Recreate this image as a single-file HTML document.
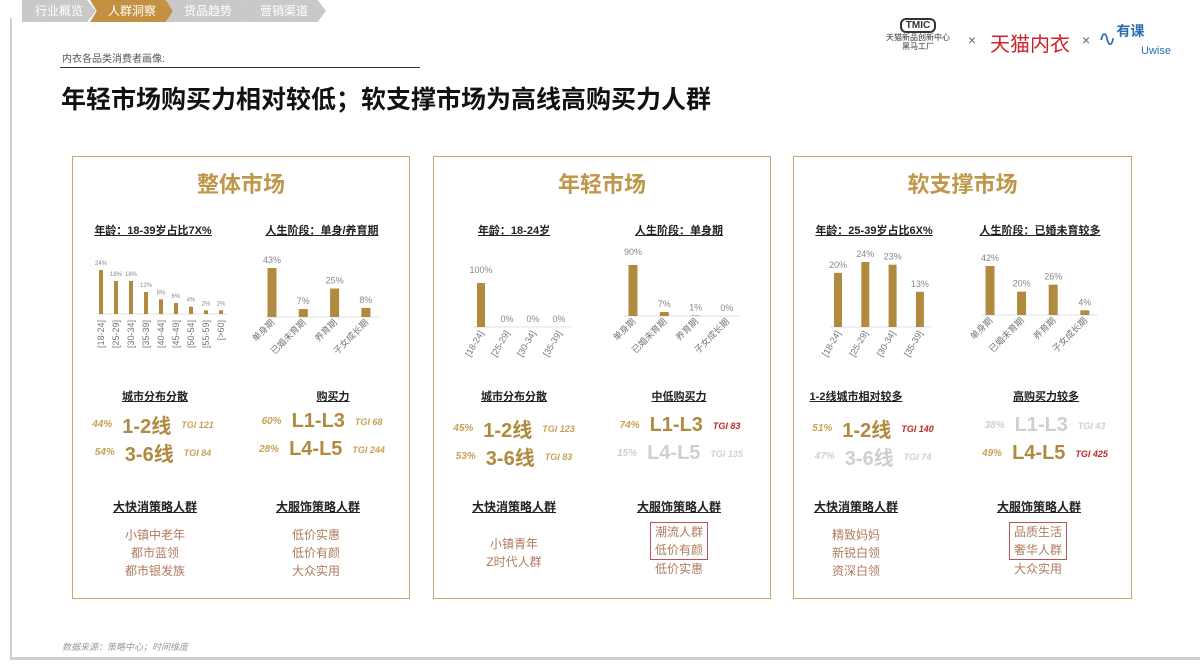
<!DOCTYPE html>
<html><head><meta charset="utf-8">
<style>
html,body{margin:0;padding:0;background:#fff;}
body{width:1200px;height:667px;position:relative;overflow:hidden;font-family:"Liberation Sans","Noto Sans CJK SC",sans-serif;}
.abs{position:absolute;}
.frame{left:10px;top:18px;width:1190px;height:642px;border-left:2px solid #cfcfcf;border-bottom:3px solid #cfcfcf;box-sizing:border-box;}
.tab{top:0;height:22px;line-height:22px;color:#fff;font-size:12px;text-align:center;background:#c9c9c9;clip-path:polygon(0 0,90% 0,100% 50%,90% 100%,0 100%,8% 50%);}
.panel{border:1.5px solid #c8a66c;background:#fff;}
.ptitle{font-size:22px;font-weight:bold;color:#c0974a;text-align:center;width:100%;top:10px;}
.sub{font-size:11px;font-weight:bold;color:#222;text-decoration:underline;white-space:nowrap;transform:translateX(-50%);}
.row{white-space:nowrap;transform:translateX(-50%);display:flex;align-items:center;gap:10px;}
.pct{font-size:10px;font-style:italic;font-weight:bold;color:#c9a255;}
.big{font-size:20px;color:#b08a3e;font-weight:bold;}
.tgi{font-size:9px;font-style:italic;font-weight:bold;color:#c9a255;}
.dim{color:#cfcfcf!important;}
.red{color:#c0262c!important;}
.items{transform:translateX(-50%);text-align:center;font-size:12px;line-height:18px;color:#b07a5e;white-space:nowrap;}
.box{border:1.5px solid #b8555a;padding:0 4px;}
</style></head><body>
<div class="abs frame"></div>
<div class="abs tab" style="left:22px;width:74px;clip-path:polygon(0 0,88% 0,100% 50%,88% 100%,0 100%)">行业概览</div>
<div class="abs tab" style="left:90px;width:84px;background:#c39140">人群洞察</div>
<div class="abs tab" style="left:166px;width:84px">货品趋势</div>
<div class="abs tab" style="left:242px;width:84px">营销渠道</div>

<div class="abs" style="left:62px;top:50px;font-size:10px;color:#555">内衣各品类消费者画像:</div>
<div class="abs" style="left:60px;top:67px;width:360px;border-top:1px solid #333"></div>
<div class="abs" style="left:61px;top:80px;font-size:25px;font-weight:bold;color:#111">年轻市场购买力相对较低；软支撑市场为高线高购买力人群</div>

<div class="abs" style="left:873px;top:18px;width:90px;text-align:center;font-size:8px;color:#333;line-height:9px"><div style="display:inline-block;border:2px solid #333;border-radius:6px;padding:1px 4px;font-size:10px;font-weight:bold">TMIC</div><br>天猫新品创新中心<br>黑马工厂</div>
<div class="abs" style="left:968px;top:32px;font-size:14px;color:#666">×</div>
<div class="abs" style="left:990px;top:28px;font-size:20px;color:#d0202a">天猫内衣</div>
<div class="abs" style="left:1082px;top:32px;font-size:14px;color:#666">×</div>
<div class="abs" style="left:1098px;top:26px;font-size:22px;color:#2a6fb0">∿<span style="font-size:14px;font-weight:bold;position:relative;top:-10px">有课</span></div>
<div class="abs" style="left:1141px;top:45px;font-size:11px;color:#2a6fb0">Uwise</div>

<div class="abs panel" style="left:72px;top:156px;width:336px;height:441px"><div class="abs ptitle">整体市场</div></div>
<div class="abs panel" style="left:433px;top:156px;width:336px;height:441px"><div class="abs ptitle">年轻市场</div></div>
<div class="abs panel" style="left:793px;top:156px;width:337px;height:441px"><div class="abs ptitle">软支撑市场</div></div>

<div class="abs sub" style="left:153px;top:222px">年龄：18-39岁占比7X%</div>
<div class="abs sub" style="left:322px;top:222px">人生阶段：单身/养育期</div>
<div class="abs sub" style="left:514px;top:222px">年龄：18-24岁</div>
<div class="abs sub" style="left:679px;top:222px">人生阶段：单身期</div>
<div class="abs sub" style="left:874px;top:222px">年龄：25-39岁占比6X%</div>
<div class="abs sub" style="left:1040px;top:222px">人生阶段：已婚未育较多</div>

<svg class="abs" id="charts" style="left:0;top:0" width="1200" height="667"></svg>

<div class="abs sub" style="left:155px;top:388px">城市分布分散</div>
<div class="abs sub" style="left:333px;top:388px">购买力</div>
<div class="abs row" style="left:153px;top:410px"><span class="pct">44%</span><span class="big">1-2线</span><span class="tgi">TGI 121</span></div>
<div class="abs row" style="left:153px;top:438px"><span class="pct">54%</span><span class="big">3-6线</span><span class="tgi">TGI 84</span></div>
<div class="abs row" style="left:322px;top:410px"><span class="pct">60%</span><span class="big">L1-L3</span><span class="tgi">TGI 68</span></div>
<div class="abs row" style="left:322px;top:438px"><span class="pct">28%</span><span class="big">L4-L5</span><span class="tgi">TGI 244</span></div>
<div class="abs sub" style="left:155px;top:498px;font-size:12px">大快消策略人群</div>
<div class="abs sub" style="left:318px;top:498px;font-size:12px">大服饰策略人群</div>
<div class="abs items" style="left:155px;top:526px">小镇中老年<br>都市蓝领<br>都市银发族</div>
<div class="abs items" style="left:316px;top:526px">低价实惠<br>低价有颜<br>大众实用</div>

<div class="abs sub" style="left:514px;top:388px">城市分布分散</div>
<div class="abs sub" style="left:679px;top:388px">中低购买力</div>
<div class="abs row" style="left:514px;top:414px"><span class="pct">45%</span><span class="big">1-2线</span><span class="tgi">TGI 123</span></div>
<div class="abs row" style="left:514px;top:442px"><span class="pct">53%</span><span class="big">3-6线</span><span class="tgi">TGI 83</span></div>
<div class="abs row" style="left:680px;top:414px"><span class="pct">74%</span><span class="big">L1-L3</span><span class="tgi red">TGI 83</span></div>
<div class="abs row" style="left:680px;top:442px"><span class="pct dim">15%</span><span class="big dim">L4-L5</span><span class="tgi dim">TGI 135</span></div>
<div class="abs sub" style="left:514px;top:498px;font-size:12px">大快消策略人群</div>
<div class="abs sub" style="left:679px;top:498px;font-size:12px">大服饰策略人群</div>
<div class="abs items" style="left:514px;top:535px">小镇青年<br>Z时代人群</div>
<div class="abs items" style="left:679px;top:522px"><div class="box">潮流人群<br>低价有颜</div>低价实惠</div>

<div class="abs sub" style="left:856px;top:388px">1-2线城市相对较多</div>
<div class="abs sub" style="left:1046px;top:388px">高购买力较多</div>
<div class="abs row" style="left:873px;top:414px"><span class="pct">51%</span><span class="big">1-2线</span><span class="tgi red">TGI 140</span></div>
<div class="abs row" style="left:873px;top:442px"><span class="pct dim">47%</span><span class="big dim">3-6线</span><span class="tgi dim">TGI 74</span></div>
<div class="abs row" style="left:1045px;top:414px"><span class="pct dim">38%</span><span class="big dim">L1-L3</span><span class="tgi dim">TGI 43</span></div>
<div class="abs row" style="left:1045px;top:442px"><span class="pct">49%</span><span class="big">L4-L5</span><span class="tgi red">TGI 425</span></div>
<div class="abs sub" style="left:856px;top:498px;font-size:12px">大快消策略人群</div>
<div class="abs sub" style="left:1039px;top:498px;font-size:12px">大服饰策略人群</div>
<div class="abs items" style="left:856px;top:526px">精致妈妈<br>新锐白领<br>资深白领</div>
<div class="abs items" style="left:1038px;top:522px"><div class="box">品质生活<br>奢华人群</div>大众实用</div>

<div class="abs" style="left:62px;top:640px;font-size:9px;font-style:italic;color:#999">数据来源：策略中心；时间维度</div>

<script>
const age1Cats=["[18-24]","[25-29]","[30-34]","[35-39]","[40-44]","[45-49]","[50-54]","[55-59]","[>60]"];
const age1Vals=[24,18,18,12,8,6,4,2,2];
const stageCats=["单身期","已婚未育期","养育期","子女成长期"];
const stage1Vals=[43,7,25,8];
const age2Cats=["[18-24]","[25-29]","[30-34]","[35-39]"];
const age2Vals=[100,0,0,0];
const stage2Vals=[90,7,1,0];
const age3Cats=["[18-24]","[25-29]","[30-34]","[35-39]"];
const age3Vals=[20,24,23,13];
const stage3Vals=[42,20,26,4];

const NS="http://www.w3.org/2000/svg";
const svg=document.getElementById('charts');
function mk(tag,attrs){const e=document.createElementNS(NS,tag);for(const k in attrs)e.setAttribute(k,attrs[k]);svg.appendChild(e);return e;}
function chart(name,cats,vals,x0,step,base,maxH,maxV,bw,rot,lblSize){
  const yScale=v=>base-v/maxV*maxH;
  const xScale=i=>x0+i*step;
  const ax=mk('line',{x1:xScale(0)-bw,x2:xScale(cats.length-1)+bw+4,y1:base,y2:base,stroke:'#e2e2e2','stroke-width':1});
  
  
  cats.forEach((c,i)=>{
    const x=xScale(i),y=yScale(vals[i]);
    const r=mk('rect',{x:x-bw/2,y:y,width:bw,height:Math.max(base-y,0),fill:'#b08a3e'});
    
    
    const t=mk('text',{x:x,y:y-(vals[i]>50?10:5),'text-anchor':'middle','font-size':lblSize,fill:'#888'});
    t.textContent=vals[i]+'%';
    
    
    const l=mk('text',{x:x+3,y:base+6,'text-anchor':'end','font-size':9,fill:'#777',transform:`rotate(${rot} ${x+3} ${base+6})`});
    l.textContent=c;
    
    
  });
}
chart('age-overall',age1Cats,age1Vals,101,15,314,44,24,4,-90,6);
chart('stage-overall',stageCats,stage1Vals,272,31.3,317,49,43,9,-45,9);
chart('age-young',age2Cats,age2Vals,481,26,327,44,100,8,-60,9);
chart('stage-young',stageCats,stage2Vals,633,31.3,316,51,90,9,-45,9);
chart('age-soft',age3Cats,age3Vals,838,27.3,327,65,24,8,-60,9);
chart('stage-soft',stageCats,stage3Vals,990,31.6,315,49,42,9,-45,9);
</script>
</body></html>
